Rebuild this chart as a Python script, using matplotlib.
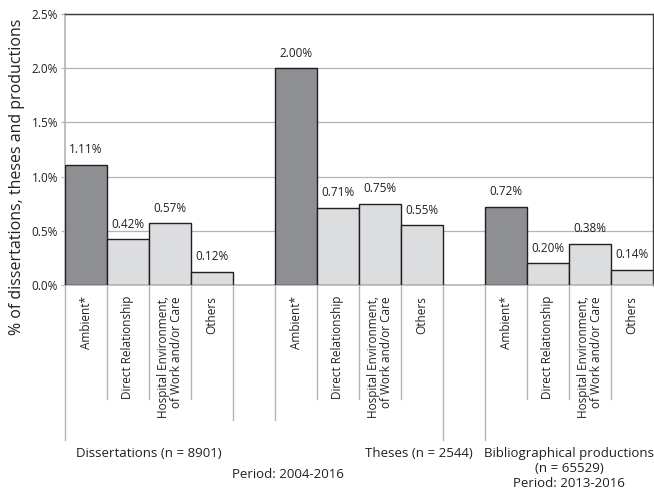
import numpy as np
import matplotlib.pyplot as plt
from matplotlib.transforms import blended_transform_factory

plt.rcParams['font.family'] = ['Open Sans', 'DejaVu Sans']

# Data
categories = ["Ambient*", "Direct Relationship",
              "Hospital Environment,\nof Work and/or Care", "Others"]
groups = ["Dissertations (n = 8901)", "Theses (n = 2544)",
          "Bibliographical productions\n(n = 65529)\nPeriod: 2013-2016"]
dissertations = [1.11, 0.42, 0.57, 0.12]
theses = [2.00, 0.71, 0.75, 0.55]
productions = [0.72, 0.20, 0.38, 0.14]
period_main = "Period: 2004-2016"

dark = '#8e8f93'
light = '#dcdddf'
edge = '#231f20'
grid = '#b4b4b4'

fig = plt.figure(figsize=(6.54, 4.92), dpi=100)
ax = fig.add_axes([65 / 654, 1 - 285 / 492, 588 / 654, 271 / 492])

series = [dissertations, theses, productions]
starts = [0, 5, 10]
for start, vals in zip(starts, series):
    xs = np.arange(start, start + len(vals))
    colors = [dark] + [light] * (len(vals) - 1)
    ax.bar(xs, vals, width=1.0, color=colors, edgecolor=edge, linewidth=1.0, zorder=3)
    for x, v in zip(xs, vals):
        ax.text(x, v + 0.08, f"{v:.2f}%", ha='center', va='bottom', fontsize=8.5, color='#231f20')

ax.set_xlim(-0.5, 13.5)
ax.set_ylim(0, 2.5)
ax.set_yticks(np.arange(0, 2.51, 0.5))
ax.set_yticklabels([f"{t:.1f}%" for t in np.arange(0, 2.51, 0.5)], fontsize=8.5, color='#231f20')
ax.yaxis.grid(True, color=grid, linewidth=0.9, zorder=0)
ax.set_xticks([])
ax.tick_params(axis='y', length=3, color=grid, pad=2)

for side in ['left', 'bottom']:
    ax.spines[side].set_color(grid)
    ax.spines[side].set_linewidth(1.2)
for side in ['top', 'right']:
    ax.spines[side].set_color('#3a3a3a')
    ax.spines[side].set_linewidth(1.0)

ax.set_ylabel("% of dissertations, theses and productions", fontsize=11.5, color='#231f20')
ax.yaxis.set_label_coords(-0.068, 0.4)

trans = blended_transform_factory(ax.transData, ax.transAxes)

# separator lines under the axis
long_b, mid_b = -155 / 271, -135 / 271
short_b = -114 / 271
for b in range(14):
    xb = b - 0.5
    if b in (0, 9, 10):
        yb = long_b
    elif b in (4, 5):
        yb = mid_b
    else:
        yb = short_b
    ax.plot([xb, xb], [0, yb], color=grid, linewidth=1.0, transform=trans, clip_on=False)

# category labels
for start in starts:
    for i, cat in enumerate(categories):
        ax.text(start + i, -11 / 271, cat, rotation=90, ha='center', va='top',
                multialignment='right', fontsize=8.5, color='#231f20',
                transform=trans, linespacing=1.0)

# group labels
ax.text(1.5, -162 / 271, groups[0], ha='center', va='top', fontsize=9.5,
        color='#231f20', transform=trans)
ax.text(9.2, -162 / 271, groups[1], ha='right', va='top', fontsize=9.5,
        color='#231f20', transform=trans)
ax.text(11.5, -162 / 271, groups[2], ha='center', va='top', fontsize=9.5,
        color='#231f20', transform=trans, linespacing=1.2)
ax.text(4.8, -183 / 271, period_main, ha='center', va='top', fontsize=9.5,
        color='#231f20', transform=trans)

fig.savefig("out.png", dpi=100)
